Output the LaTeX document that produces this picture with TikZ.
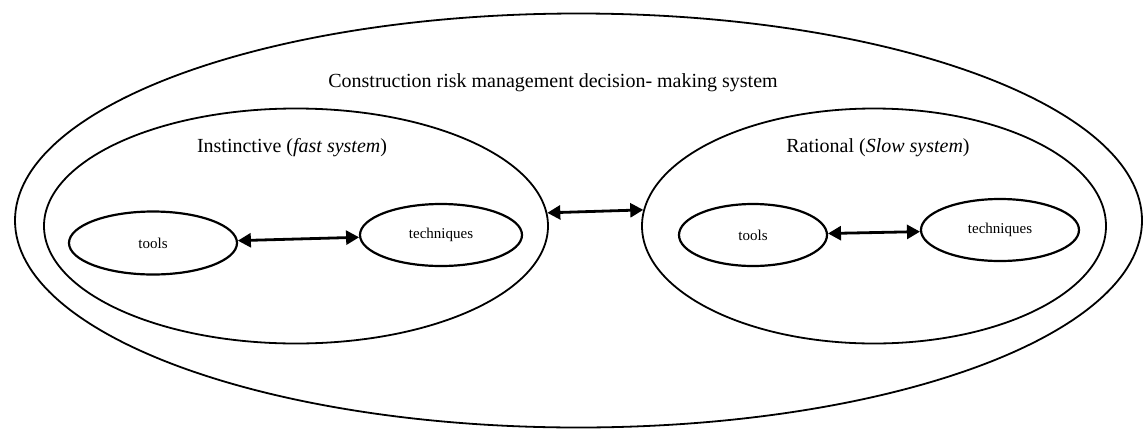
\documentclass[tikz,border=0pt]{standalone}
\usepackage{fontspec}
\setmainfont{Liberation Serif}
\usetikzlibrary{shapes.geometric,arrows.meta}
\tikzset{
  oval/.style={draw,ellipse,inner sep=0pt,line width=1.8pt},
  smalloval/.style={draw,ellipse,inner sep=0pt,line width=2.2pt,font=\fontsize{15}{17}\selectfont},
  biglabel/.style={inner sep=0pt,font=\fontsize{20}{24}\selectfont},
  arr/.style={line width=2.8pt,{Triangle[length=13pt,width=14pt]}-{Triangle[length=13pt,width=14pt]}}
}
\begin{document}
\begin{tikzpicture}[x=1pt,y=-1pt]
\useasboundingbox (0,0) rectangle (1146,429);
\node[oval,minimum width=1127pt,minimum height=414pt] (outer) at (578.5,220.5) {};
\node[oval,minimum width=504pt,minimum height=235pt] (linner) at (296,226) {};
\node[oval,minimum width=464pt,minimum height=235pt] (rinner) at (874,226) {};
\node[biglabel] (title) at (553,83) {Construction risk management decision- making system};
\node[biglabel] (llab) at (292,148) {Instinctive (\textit{fast system})};
\node[biglabel] (rlab) at (878,148) {Rational (\textit{Slow system})};
\node[smalloval,minimum width=168pt,minimum height=63pt] (ltools) at (153,243) {tools};
\node[smalloval,minimum width=162pt,minimum height=62pt] (ltech) at (441,235) {techniques};
\node[smalloval,minimum width=148pt,minimum height=62pt] (rtools) at (753,235) {tools};
\node[smalloval,minimum width=158pt,minimum height=62pt] (rtech) at (1000,230) {techniques};
\draw[arr] (ltools) -- (ltech);
\draw[arr] (linner.3) -- (rinner.176);
\draw[arr] (rtools) -- (rtech);
\end{tikzpicture}
\end{document}
